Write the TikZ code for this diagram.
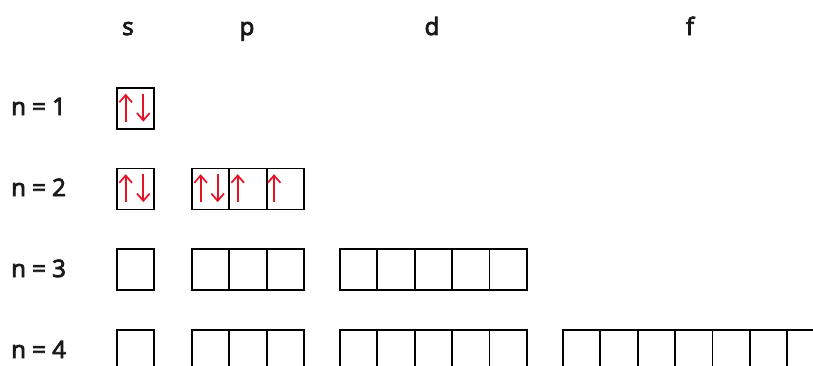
\documentclass[tikz,border=0pt]{standalone}
\usepackage{fontspec}
\setmainfont{Open Sans}
\newfontfamily\lblfont{Open Sans}[FakeBold=3.5]
\usetikzlibrary{arrows.meta}
\definecolor{spin}{RGB}{228,20,40}
\tikzset{
  orb/.style={draw=black, line width=1.3pt, minimum width=28.05pt, minimum height=30.75pt, inner sep=0pt, anchor=north west, fill=none},
  lbl/.style={font=\lblfont\fontsize{18}{20}\selectfont, inner sep=0pt, text=black!90},
  up/.style={draw=spin, line width=1.3pt, -{Straight Barb[length=5.5pt,width=9.5pt,line width=1.3pt]}},
}
\begin{document}
\begin{tikzpicture}[x=0.75pt,y=-0.75pt]
\useasboundingbox (0,0) rectangle (813,365);
\clip (0,0) rectangle (813,365);
% headers
\node[lbl, anchor=base] (hs) at (128,35) {s};
\node[lbl, anchor=base] (hp) at (247,35) {p};
\node[lbl, anchor=base] (hd) at (432,35) {d};
\node[lbl, anchor=base] (hf) at (690,35) {f};
% row labels
\node[lbl, anchor=base west] (n1) at (11,115) {n = 1};
\node[lbl, anchor=base west] (n2) at (11,196) {n = 2};
\node[lbl, anchor=base west] (n3) at (11,277) {n = 3};
\node[lbl, anchor=base west] (n4) at (11,358) {n = 4};
% rows of orbitals
\foreach \r/\y in {1/87,2/167.5,3/248,4/329}{
  \node[orb] (s\r) at (116,\y) {};
}
\foreach \r/\y in {2/167.5,3/248,4/329}{
  \foreach \i in {1,2,3}{
    \node[orb] (p\r\i) at ({191+(\i-1)*37.4},\y) {};
  }
}
\foreach \r/\y in {3/248,4/329}{
  \foreach \i in {1,...,5}{
    \node[orb] (d\r\i) at ({339+(\i-1)*37.4},\y) {};
  }
}
\foreach \i in {1,...,7}{
  \node[orb] (f4\i) at ({562+(\i-1)*37.4},329) {};
}
% electrons
\draw[up] ([xshift=7.25pt,yshift=-26pt]s1.north west) -- ([xshift=7.25pt,yshift=-5pt]s1.north west);
\draw[up] ([xshift=20.5pt,yshift=-5pt]s1.north west) -- ([xshift=20.5pt,yshift=-26pt]s1.north west);
\draw[up] ([xshift=7.25pt,yshift=-26pt]s2.north west) -- ([xshift=7.25pt,yshift=-5pt]s2.north west);
\draw[up] ([xshift=20.5pt,yshift=-5pt]s2.north west) -- ([xshift=20.5pt,yshift=-26pt]s2.north west);
\draw[up] ([xshift=7.25pt,yshift=-26pt]p21.north west) -- ([xshift=7.25pt,yshift=-5pt]p21.north west);
\draw[up] ([xshift=20pt,yshift=-5pt]p21.north west) -- ([xshift=20pt,yshift=-26pt]p21.north west);
\draw[up] ([xshift=7pt,yshift=-26pt]p22.north west) -- ([xshift=7pt,yshift=-5pt]p22.north west);
\draw[up] ([xshift=6.25pt,yshift=-26pt]p23.north west) -- ([xshift=6.25pt,yshift=-5pt]p23.north west);
\end{tikzpicture}
\end{document}
